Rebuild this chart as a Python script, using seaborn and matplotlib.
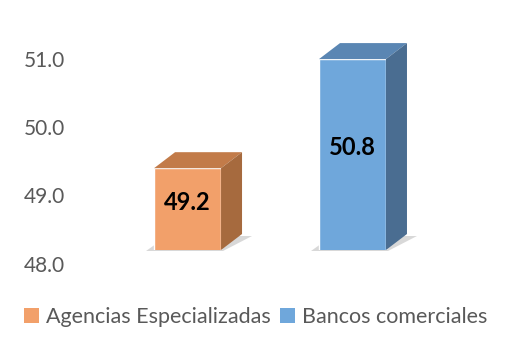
import matplotlib
matplotlib.use("Agg")
import matplotlib.pyplot as plt
import matplotlib.transforms as mtransforms
from matplotlib.patches import Polygon, Patch
import seaborn as sns
import pandas as pd

categories = ["Agencias Especializadas", "Bancos comerciales"]
values = [49.2, 50.8]
front_colors = ["#F2A06A", "#6FA7DB"]
top_colors = ["#C27B49", "#5A86B3"]
side_colors = ["#A66A3E", "#4A6D91"]
yticks = [48.0, 49.0, 50.0, 51.0]
ytick_labels = ["48.0", "49.0", "50.0", "51.0"]

sns.set_style("white")
plt.rcParams["font.family"] = ["Lato", "DejaVu Sans"]

df = pd.DataFrame({"cat": categories, "val": values})

fig = plt.figure(figsize=(5.11, 3.42), dpi=100)
W, H = 511, 342
ax = fig.add_axes([80 / W, 92 / H, 400 / W, 225 / H])
sns.barplot(data=df, x="cat", y="val", hue="cat", palette=front_colors,
            legend=False, width=0.406, ax=ax, saturation=1, zorder=3)
ax.set_ylim(48, 51.3)
ax.set_xlim(-0.652, 1.773)
ax.set_xlabel("")
ax.set_ylabel("")
ax.set_xticks([])
for s in ax.spines.values():
    s.set_visible(False)
ax.set_yticks(yticks)
ax.set_yticklabels(ytick_labels, fontsize=15, color="#595959")
ax.tick_params(axis="y", length=0, pad=11)
off = mtransforms.ScaledTranslation(0, -13.5 / 100, fig.dpi_scale_trans)
for lab in ax.get_yticklabels():
    lab.set_transform(lab.get_transform() + off)

dx, dy = 21, 16
ident = mtransforms.IdentityTransform()
bars = [p for p in ax.patches if p.get_height() > 0]
for i, p in enumerate(bars):
    x0 = p.get_x()
    x1 = x0 + p.get_width()
    v = values[i]
    (L, B) = ax.transData.transform((x0, 48))
    (R, T) = ax.transData.transform((x1, v))
    shadow = Polygon([(L - 8, B - 1), (R + 2, B - 1), (R + dx + 10, B + dy - 2),
                      (L + dx - 8, B + dy - 2)], closed=True,
                     facecolor="#BFBFBF", edgecolor="none", alpha=0.6,
                     transform=ident, zorder=1, clip_on=False)
    ax.add_artist(shadow)
    top = Polygon([(L, T), (R, T), (R + dx, T + dy), (L + dx, T + dy)], closed=True,
                  facecolor=top_colors[i], edgecolor="none", transform=ident,
                  zorder=4, clip_on=False)
    side = Polygon([(R, B), (R + dx, B + dy), (R + dx, T + dy), (R, T)], closed=True,
                   facecolor=side_colors[i], edgecolor="none", transform=ident,
                   zorder=4, clip_on=False)
    ax.add_artist(top)
    ax.add_artist(side)
    cx = x0 + p.get_width() / 2
    lab_off = mtransforms.ScaledTranslation(0, 7 / 100, fig.dpi_scale_trans)
    ax.text(cx, (v + 48) / 2, f"{v:.1f}", ha="center", va="center",
            fontsize=17, fontweight="bold", color="black", zorder=6,
            transform=ax.transData + lab_off)

handles = [Patch(facecolor=c, edgecolor="none") for c in front_colors]
fig.legend(handles, categories, loc="center", bbox_to_anchor=(0.5, 1 - 317 / H),
           ncol=2, frameon=False, fontsize=15.5, labelcolor="#595959",
           handlelength=0.7, handleheight=0.7, handletextpad=0.3,
           columnspacing=0.45, borderaxespad=0)

fig.savefig("out.png", dpi=100)
